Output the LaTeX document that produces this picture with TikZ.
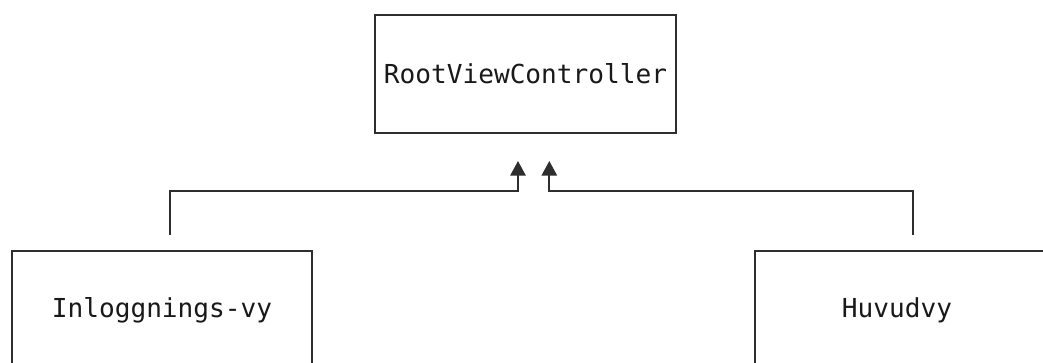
\documentclass[tikz,border=0pt]{standalone}
\usepackage{fontspec}
\setmonofont{DejaVu Sans Mono}
\usetikzlibrary{arrows.meta}
\definecolor{linec}{HTML}{2E2E2E}
\tikzset{
  box/.style={draw=linec, line width=1.5pt, minimum width=225pt, minimum height=88.5pt,
    inner sep=0pt, font=\ttfamily\fontsize{19.6pt}{23pt}\selectfont, text=black!90},
  conn/.style={draw=linec, line width=1.5pt, shorten <=11.25pt,
    -{Triangle[width=11.5pt,length=11pt,sep=3pt]}},
}
\begin{document}
\begin{tikzpicture}[x=0.75pt,y=-0.75pt]
\useasboundingbox (0,0) rectangle (1043,363);
\clip (0,0) rectangle (1043,363);
\fill[white] (0,0) rectangle (1043,363);
\node[box, minimum width=225.75pt] (root) at (525.5,74) {RootViewController};
\node[box] (inl) at (162,310) {Inloggnings-vy};
\node[box] (huv) at (905,310) {\hspace*{-12pt}Huvudvy};
\coordinate (tipL) at (518,157);
\coordinate (tipR) at (549.3,157);
\draw[conn] ([xshift=6pt]inl.north) |- (518,191.5) -- (tipL);
\draw[conn] ([xshift=6pt]huv.north) |- (549.3,191.5) -- (tipR);
\end{tikzpicture}
\end{document}
